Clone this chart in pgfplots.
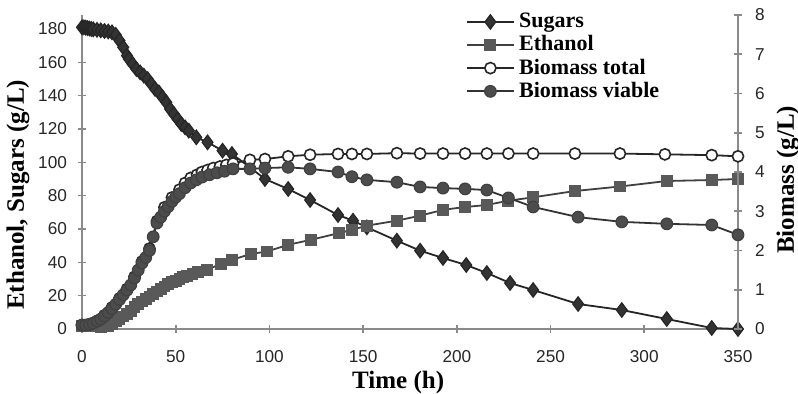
\documentclass[border=0pt]{standalone}
\usepackage{fontspec}
\setmainfont{Liberation Serif}
\setsansfont{Liberation Sans}
\usepackage{pgfplots}
\pgfplotsset{compat=1.18}
\definecolor{axgray}{HTML}{8A8A8A}
\begin{document}
\begin{tikzpicture}
\pgfplotsset{
  common/.style={scale only axis, width=328pt, height=157pt, xmin=0, xmax=350, clip=false,
    axis line style={axgray, line width=0.8pt}, tick style={axgray, line width=0.8pt},
    tick align=center, major tick length=4pt,
    tick label style={font=\sffamily\fontsize{8.6}{10}\selectfont, text=black!85},
    /pgf/number format/assume math mode=true},
  sug/.style={black!85, line width=0.9pt, mark=diamond*, mark size=3.6pt, mark options={fill=black!80, draw=black!85, line width=0.6pt}},
  eth/.style={black!75, line width=0.9pt, mark=square*, mark size=2.7pt, mark options={fill=black!65, draw=black!65, line width=0.5pt}},
  tot/.style={black!85, line width=0.9pt, mark=*, mark size=2.8pt, mark options={fill=white, draw=black!85, line width=0.8pt}},
  via/.style={black!80, line width=0.9pt, mark=*, mark size=2.9pt, mark options={fill=black!70, draw=black!75, line width=0.6pt}},
}
\begin{axis}[common, axis x line*=bottom, axis y line*=left,
  ymin=0, ymax=188.4, ytick={0,20,...,180}, xtick={0,50,...,350},
  xticklabel style={yshift=-5pt}, yticklabel style={xshift=-2pt},
  xlabel={Time (h)}, ylabel={Ethanol, Sugars (g/L)},
  every axis x label/.style={at={(axis description cs:0.482,-0.169)}, anchor=center, font=\bfseries\fontsize{12.5}{14}\selectfont},
  every axis y label/.style={at={(axis description cs:-0.0976,0.427)}, rotate=90, anchor=center, font=\bfseries\fontsize{12.5}{14}\selectfont},
]
\addplot[sug] coordinates {
(0,181) (1,181) (2,180.8) (3,180.5) (4,180.3) (5,180) (6,179.8) (8,179.5) (10,179.2) (12,178.8) (14,178.5) (16,178) (18,176.5) (20,173) (22,169) (24,164) (25,162) (27,159) (29,156) (31,154) (33,152) (35,150) (37,147) (39,144) (41,142) (43,139) (45,136) (47,132) (49,129) (51,126) (53,123) (55,121) (57,119) (61,115) (67,112) (75,107) (80,105) (89.6,97) (97.6,90) (110,84) (121.7,77.4) (136.6,68.4) (144.6,65) (152,61) (168,53) (180.4,47) (192.6,42.6) (205,38.4) (216,33.6) (228.4,27.6) (240.7,23.4) (264.7,15) (288,11.4) (312,6) (336,0.6) (350,0)
};
\addplot[eth] coordinates {
(0,2) (2,2) (4,2) (6,1.8) (8,1.5) (10,1.2) (12,1.5) (14,2) (16,3) (18,4.5) (20,6) (22,7.5) (24,9) (26,11) (28,13) (30,15) (32,16.5) (34,18) (36,19.5) (38,21) (40,22.5) (42,24) (44,25.5) (46,27) (48,28) (50,29) (52,30) (54,31) (56,31.8) (59,32.8) (62,34) (66.5,35.5) (74,39) (80,41.5) (90,45) (98.6,46.5) (110,50.5) (122,53.5) (137,57.5) (144,59.5) (152,62) (168,65) (180.4,68) (192.6,71.5) (204.4,73.2) (216,74.4) (227.5,77) (240.7,79) (263,82.8) (287,85.5) (312,88.8) (336,89.4) (350,90)
};
\end{axis}
\begin{axis}[common, axis x line=none, axis y line*=right,
  ymin=0, ymax=8, ytick={0,1,...,8}, yticklabel style={xshift=3pt},
  ylabel={Biomass (g/L)},
  every axis y label/.style={at={(axis description cs:1.076,0.475)}, rotate=90, anchor=center, font=\bfseries\fontsize{12.5}{14}\selectfont},
  legend style={draw=none, fill=none, at={(axis description cs:0.585,1.02)}, anchor=north west,
    font=\bfseries\fontsize{11}{12}\selectfont, row sep=-1.5pt, inner sep=0pt,
    /tikz/every odd column/.append style={column sep=0pt}},
  legend cell align=left,
  legend image code/.code={\draw[mark repeat=2,mark phase=2] plot coordinates {(0cm,0cm) (0.41cm,0cm) (0.83cm,0cm)};},
]
\addlegendimage{sug}
\addlegendentry{Sugars}
\addlegendimage{eth}
\addlegendentry{Ethanol}
\addplot[tot] coordinates {
(0,0.1) (4,0.12) (8,0.2) (12,0.35) (16,0.55) (20,0.78) (24,1.02) (28,1.33) (32,1.72) (36,2.05) (40,2.75) (44,3.1) (48,3.35) (52,3.55) (55,3.72) (58,3.85) (61.4,3.93) (64,4.0) (67,4.05) (70,4.1) (73.6,4.14) (77,4.18) (80.6,4.22) (89.6,4.31) (97.6,4.33) (110,4.40) (121.7,4.44) (136.6,4.46) (144,4.46) (152,4.46) (168,4.48) (180.4,4.47) (192.6,4.47) (204.4,4.47) (216,4.47) (227.5,4.47) (240.7,4.47) (263,4.47) (287,4.47) (311,4.45) (336,4.43) (350,4.40)
};
\addlegendentry{Biomass total}
\addplot[via] coordinates {
(0,0.1) (2,0.1) (4,0.12) (6,0.15) (8,0.2) (10,0.25) (12,0.33) (14,0.42) (16,0.52) (18,0.63) (20,0.75) (22,0.87) (24,0.99) (26,1.12) (28,1.3) (30,1.5) (32,1.68) (34,1.82) (36,2.0) (38,2.35) (40,2.7) (42,2.85) (44,3.0) (46,3.12) (48,3.25) (50,3.36) (52,3.45) (55,3.6) (58,3.72) (61,3.8) (64,3.87) (68,3.93) (72,3.98) (76,4.02) (80.6,4.08) (89.6,4.08) (97.6,4.10) (110,4.12) (121.7,4.08) (136.6,4.0) (144,3.88) (152,3.8) (168,3.74) (180.4,3.62) (192.6,3.59) (204.4,3.57) (216,3.54) (227.5,3.34) (240.7,3.11) (264.7,2.85) (288,2.73) (312,2.68) (336,2.65) (350,2.40)
};
\addlegendentry{Biomass viable}
\end{axis}
\pgfresetboundingbox
\path[use as bounding box] (-41pt,-32pt) rectangle (358pt,164.5pt);
\end{tikzpicture}
\end{document}
